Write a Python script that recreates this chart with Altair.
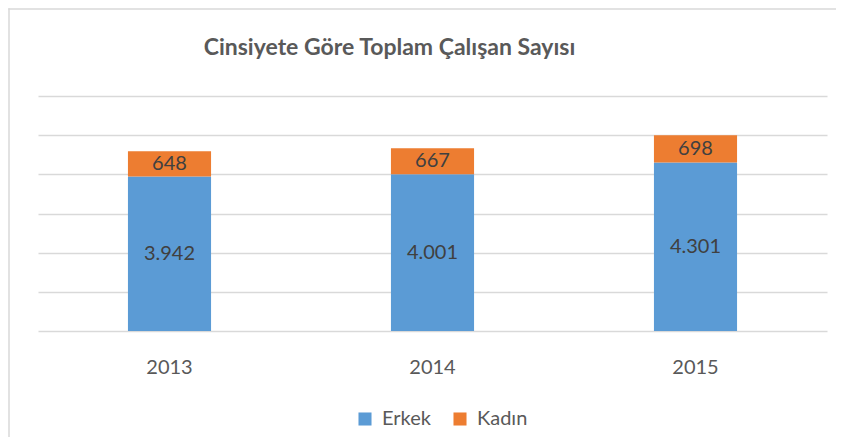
import altair as alt
import pandas as pd

title_text = "Cinsiyete Göre Toplam Çalışan Sayısı"
years = ["2013", "2014", "2015"]
erkek = [3942, 4001, 4301]
kadin = [648, 667, 698]
series = ["Erkek", "Kadın"]
colors = ["#5B9BD5", "#ED7D31"]

rows = []
for i, y in enumerate(years):
    rows.append({"year": y, "series": "Erkek", "value": erkek[i], "ord": 0})
    rows.append({"year": y, "series": "Kadın", "value": kadin[i], "ord": 1})
df = pd.DataFrame(rows)

FONT = "Lato"
TXT = "#595959"

base = alt.Chart(df).transform_stack(
    stack="value", groupby=["year"], as_=["v0", "v1"], sort=[alt.SortField("ord")]
).transform_calculate(
    mid="(datum.v0 + datum.v1) / 2",
    label="replace(format(datum.value, ','), ',', '.')",
)

xenc = alt.X(
    "year:N",
    title=None,
    scale=alt.Scale(paddingInner=0.684, paddingOuter=0.342),
    axis=alt.Axis(labelAngle=0, domain=False, ticks=False, labelPadding=26,
                  labelFontSize=20, labelColor=TXT, labelFont=FONT, grid=False),
)

yaxis = alt.Axis(values=[0, 1000, 2000, 3000, 4000, 5000, 6000], labels=False,
                 ticks=False, domain=False, grid=True, gridColor="#d9d9d9",
                 gridWidth=1.5)
yscale = alt.Scale(domain=[0, 6000])

bars = base.mark_bar().encode(
    x=xenc,
    y=alt.Y("v0:Q", title=None, scale=yscale, axis=yaxis),
    y2="v1:Q",
    color=alt.Color("series:N", scale=alt.Scale(domain=series, range=colors),
                    legend=alt.Legend(title=None, orient="none", legendX=317, legendY=313,
                                      direction="horizontal", padding=0,
                                      symbolType="square", symbolSize=170,
                                      symbolStrokeWidth=0, labelFontSize=20,
                                      labelOffset=7, labelColor=TXT, labelFont=FONT,
                                      columnPadding=19)),
)

labels = base.mark_text(fontSize=20, font=FONT, color="#404040").encode(
    x=alt.X("year:N"),
    y=alt.Y("mid:Q", title=None, scale=yscale, axis=yaxis),
    text="label:N",
)

title = alt.Chart(pd.DataFrame({"t": [title_text]})).mark_text(
    fontSize=23, font=FONT, fontWeight="bold", color=TXT, align="center", baseline="middle"
).encode(x=alt.value(351.5), y=alt.value(-48), text="t:N")

border_left = alt.Chart(pd.DataFrame({"a": [0]})).mark_rule(
    color="#d9d9d9", strokeWidth=1.5
).encode(x=alt.value(-29), y=alt.value(-87.75), y2=alt.value(600))

border_top = alt.Chart(pd.DataFrame({"a": [0]})).mark_rule(
    color="#d9d9d9", strokeWidth=1.5
).encode(x=alt.value(-29.75), x2=alt.value(900), y=alt.value(-87))

chart = alt.layer(bars, labels, title, border_left, border_top).properties(
    width=789,
    height=235,
    autosize=alt.AutoSizeParams(type="none"),
    padding={"left": 30, "top": 88, "right": 9, "bottom": 106},
).configure_view(stroke=None)

chart.save("out.html", embed_options={"renderer": "svg", "actions": False})
